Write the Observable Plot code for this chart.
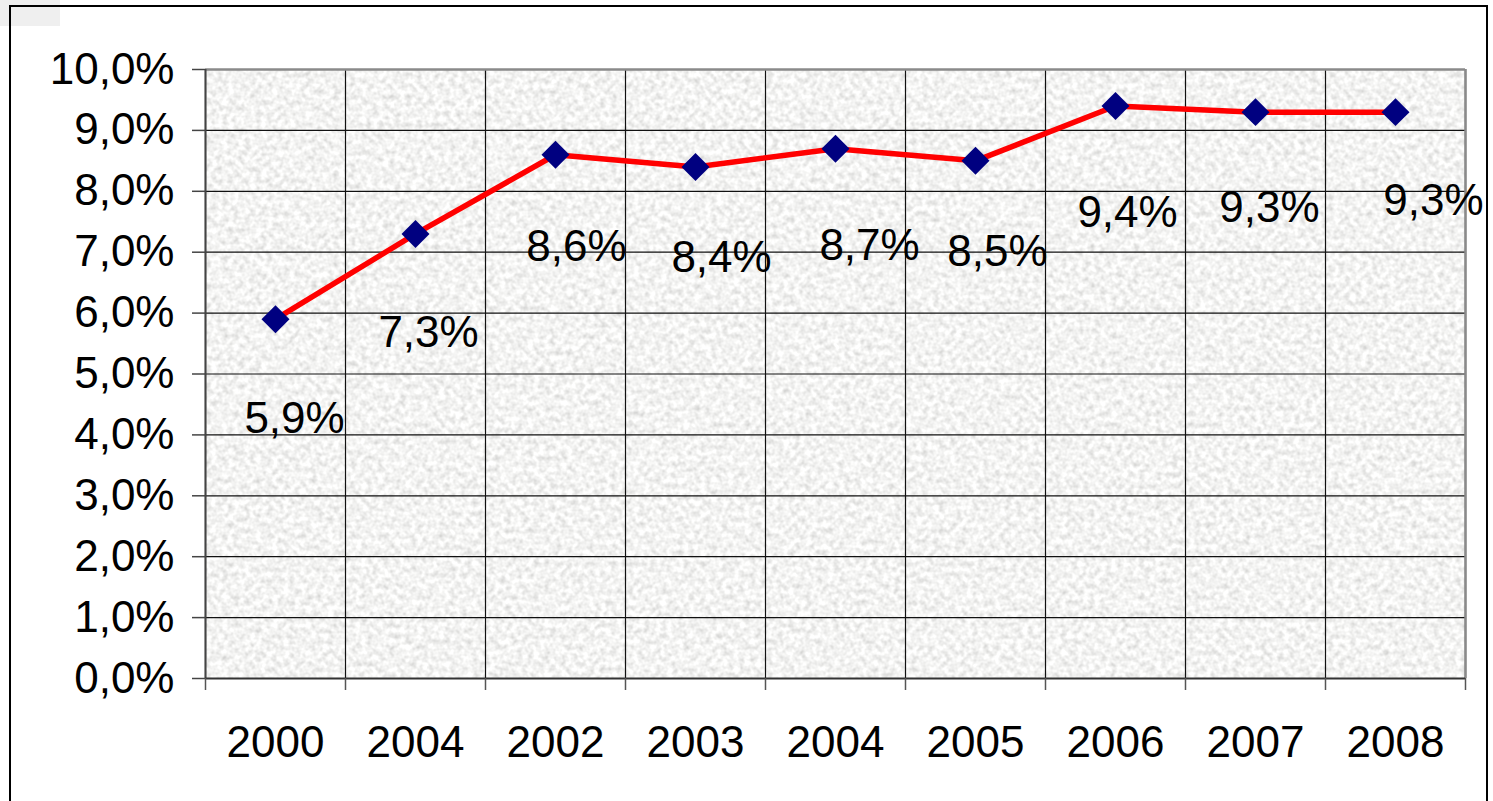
<!DOCTYPE html>
<html>
<head>
<meta charset="utf-8">
<script src="https://cdn.jsdelivr.net/npm/d3@7"></script>
<script src="https://cdn.jsdelivr.net/npm/@observablehq/plot@0.6"></script>
<style>
  html, body { margin: 0; padding: 0; background: #fff; }
  #chart { position: relative; width: 1493px; height: 801px; overflow: hidden; }
</style>
</head>
<body>
<div id="chart"></div>
<script>
// ---- data ----
const years = ["2000", "2004", "2002", "2003", "2004", "2005", "2006", "2007", "2008"];
const values = [5.9, 7.3, 8.6, 8.4, 8.7, 8.5, 9.4, 9.3, 9.3];
// data-label anchors (in chart units: category index, percent)
const labelX = [0.136, 1.093, 2.15, 3.186, 4.243, 5.157, 6.086, 7.1, 8.271];
const labelY = [4.27, 5.68, 7.08, 6.90, 7.11, 7.00, 7.65, 7.73, 7.85];
const yTicks = [0, 1, 2, 3, 4, 5, 6, 7, 8, 9, 10];

const data = values.map((v, i) => ({i, year: years[i], v, lx: labelX[i], ly: labelY[i]}));
const bounds = d3.range(years.length + 1).map(k => k - 0.5);
const fmt = d => d.toFixed(1).replace(".", ",") + "%";

const plot = Plot.plot({
  width: 1493,
  height: 801,
  marginLeft: 205,
  marginRight: 28,
  marginTop: 69,
  marginBottom: 123,
  style: {
    fontFamily: "'Liberation Sans', Arial, sans-serif",
    fontSize: "44px",
    color: "#000",
    background: "transparent",
    overflow: "visible"
  },
  x: {domain: [-0.5, years.length - 0.5], axis: null},
  y: {domain: [0, 10], axis: null},
  marks: [
    Plot.frame({fill: "#e4e4e2"}),
    Plot.gridY(yTicks, {stroke: "#111", strokeOpacity: 1, strokeWidth: 1.2}),
    Plot.gridX(bounds, {stroke: "#111", strokeOpacity: 1, strokeWidth: 1.2}),
    Plot.ruleX([years.length - 0.5], {stroke: "#8a8a8a", strokeWidth: 2.5}),
    Plot.ruleY([10], {stroke: "#8a8a8a", strokeWidth: 2.5}),
    Plot.ruleX([-0.5], {stroke: "#444", strokeWidth: 2}),
    Plot.ruleY([0], {stroke: "#333", strokeWidth: 2}),
    Plot.axisY(yTicks, {tickSize: 13, tickPadding: 18, tickFormat: fmt, stroke: "#444", strokeWidth: 1.5, fill: "#000", fontSize: 44}),
    Plot.axisX(bounds, {tickSize: 12, tickFormat: () => "", stroke: "#555", strokeWidth: 1.5}),
    Plot.axisX(d3.range(years.length), {tickSize: 0, tickPadding: 47, tickFormat: i => years[i], fill: "#000", fontSize: 44}),
    Plot.line(data, {x: "i", y: "v", stroke: "#ff0000", strokeWidth: 5.5}),
    Plot.dot(data, {x: "i", y: "v", symbol: "diamond2", r: 12.6, fill: "#000080", stroke: "none"}),
    Plot.text(data, {x: "lx", y: "ly", text: d => fmt(d.v), fontSize: 44, fill: "#000", textAnchor: "middle", lineAnchor: "middle"})
  ]
});

document.getElementById("chart").appendChild(plot);

// decorative texture and outer border
const svg = d3.select(plot);
const defs = svg.insert("defs", ":first-child");
const f = defs.append("filter").attr("id", "noise")
  .attr("x", 0).attr("y", 0).attr("width", 1).attr("height", 1)
  .attr("filterUnits", "objectBoundingBox");
f.append("feTurbulence").attr("type", "fractalNoise").attr("baseFrequency", 0.18)
  .attr("numOctaves", 2).attr("seed", 7).attr("result", "t");
f.append("feColorMatrix").attr("type", "matrix")
  .attr("values", "0.6 0 0 0 0.6  0.6 0 0 0 0.6  0.6 0 0 0 0.59  0 0 0 0 1");
const frame = plot.querySelector('[aria-label="frame"]');
if (frame) {
  const r = frame.tagName.toLowerCase() === "rect" ? frame : frame.querySelector("rect");
  if (r) r.setAttribute("filter", "url(#noise)");
}
svg.insert("rect", ":first-child").attr("x", 0).attr("y", 0).attr("width", 60).attr("height", 26).attr("fill", "#efefef");
svg.append("rect").attr("x", 10).attr("y", 6).attr("width", 1477).attr("height", 820)
  .attr("fill", "none").attr("stroke", "#000").attr("stroke-width", 2);
</script>
</body>
</html>
